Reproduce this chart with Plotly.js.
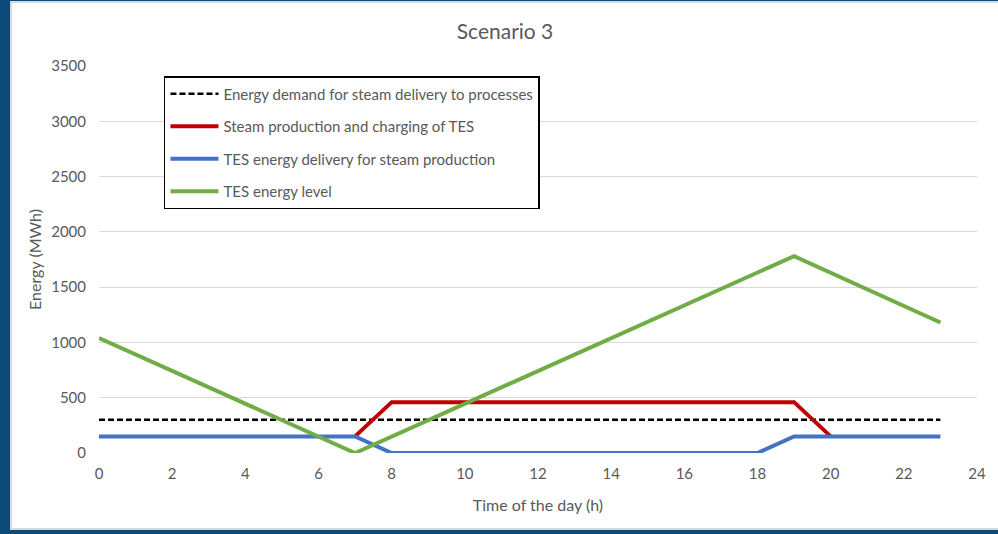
<!DOCTYPE html>
<html>
<head>
<meta charset="utf-8">
<script src="https://cdn.plot.ly/plotly-3.0.1.min.js"></script>
<style>
  html, body { margin: 0; padding: 0; width: 998px; height: 534px; overflow: hidden; background: #0b4a78; }
  #frame { position: absolute; left: 10px; top: 1px; width: 990px; height: 529px; box-sizing: border-box; border: 2px solid #d9d9d9; background: #fff; }
  #chart { width: 986px; height: 525px; }
</style>
</head>
<body>
<div id="frame"><div id="chart"></div></div>
<script>
// Data (hours of the day, energy in MWh)
const demandHours = [0, 23];
const demandValues = [300, 300];

const steamHours = [7, 8, 19, 20];
const steamValues = [150, 460, 460, 150];

const tesDeliveryHours = [0, 7, 8, 18, 19, 23];
const tesDeliveryValues = [150, 150, 0, 0, 150, 150];

const tesLevelHours = [0, 7, 19, 23];
const tesLevelValues = [1040, 0, 1780, 1180];

const seriesNames = [
  'Energy demand for steam delivery to processes',
  'Steam production and charging of TES',
  'TES energy delivery for steam production',
  'TES energy level'
];

const xTicks = [0, 2, 4, 6, 8, 10, 12, 14, 16, 18, 20, 22, 24];
const yTicks = [0, 500, 1000, 1500, 2000, 2500, 3000, 3500];

const FONT = 'Lato, "Open Sans", sans-serif';
const GRAY = '#595959';

const traces = [
  { x: demandHours, y: demandValues, name: seriesNames[0], mode: 'lines', legendgroup: 'a',
    line: { color: '#000000', width: 2.5, dash: '6px,3px' } },
  { x: steamHours, y: steamValues, name: seriesNames[1], mode: 'lines', legendgroup: 'b',
    line: { color: '#c00000', width: 4 } },
  { x: tesDeliveryHours, y: tesDeliveryValues, name: seriesNames[2], mode: 'lines', legendgroup: 'c',
    line: { color: '#4472c4', width: 4 } },
  { x: tesLevelHours, y: tesLevelValues, name: seriesNames[3], mode: 'lines', legendgroup: 'd',
    line: { color: '#70ad47', width: 4 } }
];

const layout = {
  width: 986, height: 525,
  margin: { l: 87, r: 21, t: 63, b: 75 },
  paper_bgcolor: '#ffffff', plot_bgcolor: '#ffffff',
  font: { family: FONT, color: GRAY, size: 15 },
  title: { text: 'Scenario 3', x: 0.5, xanchor: 'center', y: 0.945, yanchor: 'middle',
    font: { family: FONT, size: 21, color: GRAY } },
  xaxis: {
    range: [0, 24], tickvals: xTicks, ticktext: xTicks.map(String),
    showgrid: false, zeroline: false, showline: false, ticks: '',
    ticklabelstandoff: 10,
    tickfont: { family: FONT, size: 15, color: GRAY },
    title: { text: 'Time of the day (h)', standoff: 18, font: { family: FONT, size: 16, color: GRAY } }
  },
  yaxis: {
    range: [0, 3500], tickvals: yTicks, ticktext: yTicks.map(String),
    showgrid: true, gridcolor: '#d9d9d9', gridwidth: 1, zeroline: false, showline: false, ticks: '',
    ticklabelstandoff: 12,
    tickfont: { family: FONT, size: 15, color: GRAY },
    title: { text: 'Energy (MWh)', standoff: 5, font: { family: FONT, size: 16, color: GRAY } }
  },
  showlegend: true,
  legend: {
    x: 0.074, y: 0.974, xanchor: 'left', yanchor: 'top',
    bgcolor: '#ffffff', bordercolor: '#000000', borderwidth: 1.5,
    font: { family: FONT, size: 15, color: GRAY },
    itemwidth: 48,
    traceorder: 'grouped', tracegroupgap: 10
  }
};

Plotly.newPlot('chart', traces, layout, { displayModeBar: false, staticPlot: true });
</script>
</body>
</html>
